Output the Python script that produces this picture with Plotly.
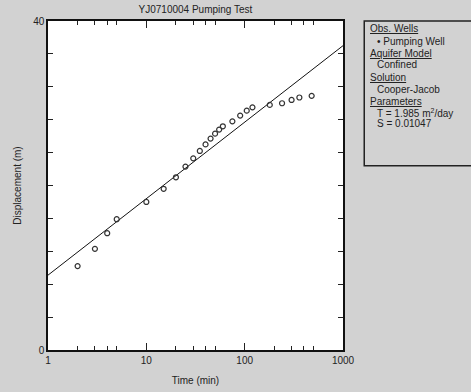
import plotly.graph_objects as go

# Observed data (time in min, displacement in m)
time_min = [2, 3, 4, 5, 10, 15, 20, 25, 30, 35, 40, 45, 50, 55, 60, 75, 90, 105, 120, 180, 240, 300, 360, 480]
displacement = [10.2, 12.3, 14.2, 15.9, 18.0, 19.6, 21.0, 22.3, 23.3, 24.2, 25.0, 25.7, 26.3, 26.8, 27.2,
                27.8, 28.5, 29.1, 29.5, 29.8, 30.0, 30.4, 30.7, 30.9]

# Cooper-Jacob fitted straight line (endpoints)
fit_time = [1, 1000]
fit_disp = [9.1, 37.0]

x_major = [1, 10, 100, 1000]
x_major_text = ["1", "10", "100", "1000"]
x_minor = [2, 3, 4, 5, 20, 30, 40, 50, 200, 300, 400, 500]
y_major = [0, 40]
y_major_text = ["0", "40"]
y_minor = [4, 8, 12, 16, 20, 24, 28, 32, 36]

BG = "#d2d2d2"
FONT = "Liberation Sans, Arial, sans-serif"

fig = go.Figure()
fig.add_trace(go.Scatter(x=fit_time, y=fit_disp, mode="lines",
                         line=dict(color="#111111", width=1), showlegend=False))
fig.add_trace(go.Scatter(x=time_min, y=displacement, mode="markers",
                         marker=dict(symbol="circle-open", size=5, color="#333333",
                                     line=dict(width=1.2, color="#333333")),
                         showlegend=False))

fig.update_layout(
    width=471, height=392,
    margin=dict(l=48, r=128, t=21, b=42),
    paper_bgcolor=BG, plot_bgcolor="white",
    font=dict(family=FONT, size=10, color="#222222"),
    title=dict(text="YJ0710004 Pumping Test", x=0.415, xanchor="center", y=0.975, yanchor="middle",
               font=dict(size=10, family=FONT, color="#222222")),
    xaxis=dict(type="log", range=[0, 3], tickmode="array", tickvals=x_major, ticktext=x_major_text,
               ticks="inside", ticklen=7, tickwidth=1, tickcolor="#222222",
               minor=dict(tickmode="array", tickvals=x_minor, ticks="inside", ticklen=4,
                          tickwidth=1, tickcolor="#222222"),
               showline=True, linecolor="#111111", linewidth=1.5, mirror="ticks",
               showgrid=False, zeroline=False, automargin=False,
               title=dict(text="Time (min)", standoff=12, font=dict(size=10)),
               tickfont=dict(size=10)),
    yaxis=dict(range=[0, 40], tickmode="array", tickvals=y_major, ticktext=y_major_text,
               ticks="inside", ticklen=5, tickwidth=1, tickcolor="#222222",
               minor=dict(tickmode="array", tickvals=y_minor, ticks="inside", ticklen=5,
                          tickwidth=1, tickcolor="#222222"),
               showline=True, linecolor="#111111", linewidth=1.5, mirror="ticks",
               showgrid=False, zeroline=False, automargin=False,
               title=dict(text="Displacement (m)", standoff=10, font=dict(size=10)),
               tickfont=dict(size=10)),
)

# Info panel box on the right
fig.add_shape(type="rect", xref="paper", yref="paper",
              x0=1.072, x1=1.7, y0=0.56, y1=1.0, line=dict(color="#222222", width=1.5),
              fillcolor="rgba(0,0,0,0)", layer="above")

panel = [
    ("Obs. Wells", 28, 368, True),
    ("• Pumping Well", 42, 375, False),
    ("Aquifer Model", 53, 368, True),
    ("Confined", 64, 375, False),
    ("Solution", 77, 368, True),
    ("Cooper-Jacob", 89, 375, False),
    ("Parameters", 101, 368, True),
    ("T = 1.985 m<sup>2</sup>/day", 113, 375, False),
    ("S = 0.01047", 124, 375, False),
]
for text, ypix, xpix, und in panel:
    font = dict(size=10, family=FONT, color="#222222")
    if und:
        font["lineposition"] = "under"
    fig.add_annotation(xref="paper", yref="paper",
                       x=(xpix - 48) / 295.0, y=(350 - ypix) / 329.0,
                       xanchor="left", yanchor="middle", text=text, showarrow=False,
                       font=font)

fig.write_html("out.html", config={"displayModeBar": False},
               post_script="document.body.style.margin='0';document.body.style.background='%s';" % BG)
